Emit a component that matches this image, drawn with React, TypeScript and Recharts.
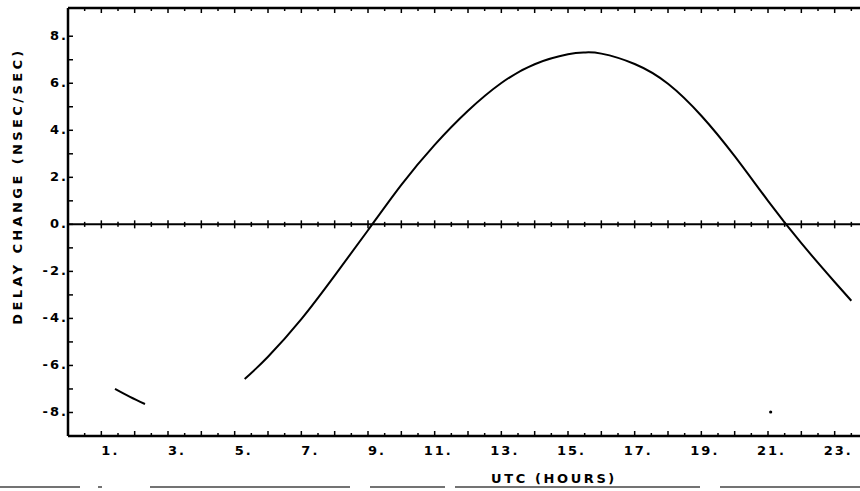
import React from 'react';
import { ComposedChart, Line, Scatter, XAxis, YAxis, ReferenceLine } from 'recharts';

// main pass (hours UTC vs delay change, nsec/sec)
const mainHours = [5.3, 6, 7, 8, 9, 10, 11, 12, 13, 14, 15, 15.5, 16, 17, 18, 19, 20, 21, 22, 23, 23.5];
const mainDelay = [-6.58, -5.63, -4.03, -2.18, -0.25, 1.68, 3.38, 4.83, 6.01, 6.81, 7.23, 7.31, 7.26, 6.82, 5.98, 4.62, 2.9, 1.0, -0.8, -2.45, -3.25];

// short early pass
const segHours = [1.41, 1.86, 2.31];
const segDelay = [-7.0, -7.34, -7.64];

// stray point
const dotHours = [21.08];
const dotDelay = [-7.98];

const xLabels = [1, 3, 5, 7, 9, 11, 13, 15, 17, 19, 21, 23];
const yTicks = [-8, -7, -6, -5, -4, -3, -2, -1, 0, 1, 2, 3, 4, 5, 6, 7, 8];
const yLabels = [-8, -6, -4, -2, 0, 2, 4, 6, 8];
const halfHours = Array.from({ length: 47 }, (_, i) => (i + 1) / 2);

const X_MIN = 0;
const X_MAX = 24;
const Y_MIN = -9;
const Y_MAX = 9.2;
const AXIS_W = 68;

const SANS = "'DejaVu Sans', sans-serif";

const toRows = (xs: number[], ys: number[]) => xs.map((h, i) => ({ h, v: ys[i] }));

const mainData = toRows(mainHours, mainDelay);
const segData = toRows(segHours, segDelay);
const dotData = toRows(dotHours, dotDelay);
const zeroTickData = halfHours.map(h => ({ h, v: 0 }));
const topTickData = halfHours.map(h => ({ h, v: Y_MAX }));

const XTick = (props: any) => {
  const { x, y, payload } = props;
  const whole = Number.isInteger(payload.value);
  const showLabel = xLabels.includes(payload.value);
  return (
    <g>
      <line x1={x} x2={x} y1={y} y2={y - (whole ? 5 : 3)} stroke="#000" strokeWidth={1.5} />
      {showLabel && (
        <text x={x + 18} y={y + 19} textAnchor="end" fontFamily={SANS} fontWeight="bold" fontSize={13} letterSpacing={2} fill="#000">
          {`${payload.value}.`}
        </text>
      )}
    </g>
  );
};

const YTick = (props: any) => {
  const { y, payload } = props;
  const showLabel = yLabels.includes(payload.value);
  return (
    <g>
      <line x1={AXIS_W} x2={AXIS_W + 5} y1={y} y2={y} stroke="#000" strokeWidth={1.5} />
      {showLabel && (
        <text x={AXIS_W} y={y + 4} textAnchor="end" fontFamily={SANS} fontWeight="bold" fontSize={13} letterSpacing={2} fill="#000">
          {`${payload.value}.`}
        </text>
      )}
    </g>
  );
};

const ZeroCross = (props: any) => {
  const { cx, cy, payload } = props;
  const len = Number.isInteger(payload.h) ? 4 : 2.5;
  return <line x1={cx} x2={cx} y1={cy - len} y2={cy + len} stroke="#000" strokeWidth={1.5} />;
};

const TopTick = (props: any) => {
  const { cx, cy, payload } = props;
  const len = Number.isInteger(payload.h) ? 5 : 3;
  return <line x1={cx} x2={cx} y1={cy} y2={cy + len} stroke="#000" strokeWidth={1.5} />;
};

const StrayDot = (props: any) => <circle cx={props.cx} cy={props.cy} r={1.6} fill="#000" />;

const scanLines = [
  [0, 80], [98, 102], [150, 350], [370, 445], [455, 700], [720, 860],
];

export default function App() {
  return (
    <div style={{ position: 'absolute', left: 0, top: 0, width: 860, height: 491, overflow: 'hidden', background: '#fff' }}>
      <ComposedChart width={868} height={491} margin={{ top: 8, right: 0, bottom: 0, left: 0 }}>
        <XAxis
          xAxisId="b"
          type="number"
          dataKey="h"
          domain={[X_MIN, X_MAX]}
          ticks={halfHours}
          allowDataOverflow
          height={55}
          tickSize={0}
          tickMargin={0}
          tickLine={false}
          axisLine={{ stroke: '#000', strokeWidth: 2.5 }}
          tick={XTick}
          interval={0}
        />
        <YAxis
          type="number"
          dataKey="v"
          domain={[Y_MIN, Y_MAX]}
          ticks={yTicks}
          allowDataOverflow
          width={AXIS_W}
          tickSize={0}
          tickMargin={0}
          tickLine={false}
          axisLine={{ stroke: '#000', strokeWidth: 2.5 }}
          tick={YTick}
          interval={0}
        />
        <ReferenceLine xAxisId="b" y={Y_MAX} stroke="#000" strokeWidth={2.5} />
        <ReferenceLine xAxisId="b" y={0} stroke="#000" strokeWidth={2} />
        <Scatter xAxisId="b" data={zeroTickData} dataKey="v" shape={ZeroCross} isAnimationActive={false} />
        <Scatter xAxisId="b" data={topTickData} dataKey="v" shape={TopTick} isAnimationActive={false} />
        <Line xAxisId="b" data={mainData} dataKey="v" type="natural" stroke="#000" strokeWidth={2} dot={false} isAnimationActive={false} />
        <Line xAxisId="b" data={segData} dataKey="v" type="natural" stroke="#000" strokeWidth={2} dot={false} isAnimationActive={false} />
        <Scatter xAxisId="b" data={dotData} dataKey="v" shape={StrayDot} isAnimationActive={false} />
        <text x={554} y={483} textAnchor="middle" fontFamily={SANS} fontWeight="bold" fontSize={13} letterSpacing={2.6} fill="#000">
          UTC (HOURS)
        </text>
        <text
          x={18}
          y={186}
          transform="rotate(-90 18 186)"
          textAnchor="middle"
          dominantBaseline="middle"
          fontFamily={SANS}
          fontWeight="bold"
          fontSize={13}
          letterSpacing={3.4}
          fill="#000"
        >
          DELAY  CHANGE (NSEC/SEC)
        </text>
      </ComposedChart>
      <svg width={860} height={491} style={{ position: 'absolute', left: 0, top: 0, pointerEvents: 'none' }}>
        {scanLines.map(([a, b], i) => (
          <line key={i} x1={a} x2={b} y1={487} y2={487} stroke="#444" strokeWidth={1.5} />
        ))}
      </svg>
    </div>
  );
}
